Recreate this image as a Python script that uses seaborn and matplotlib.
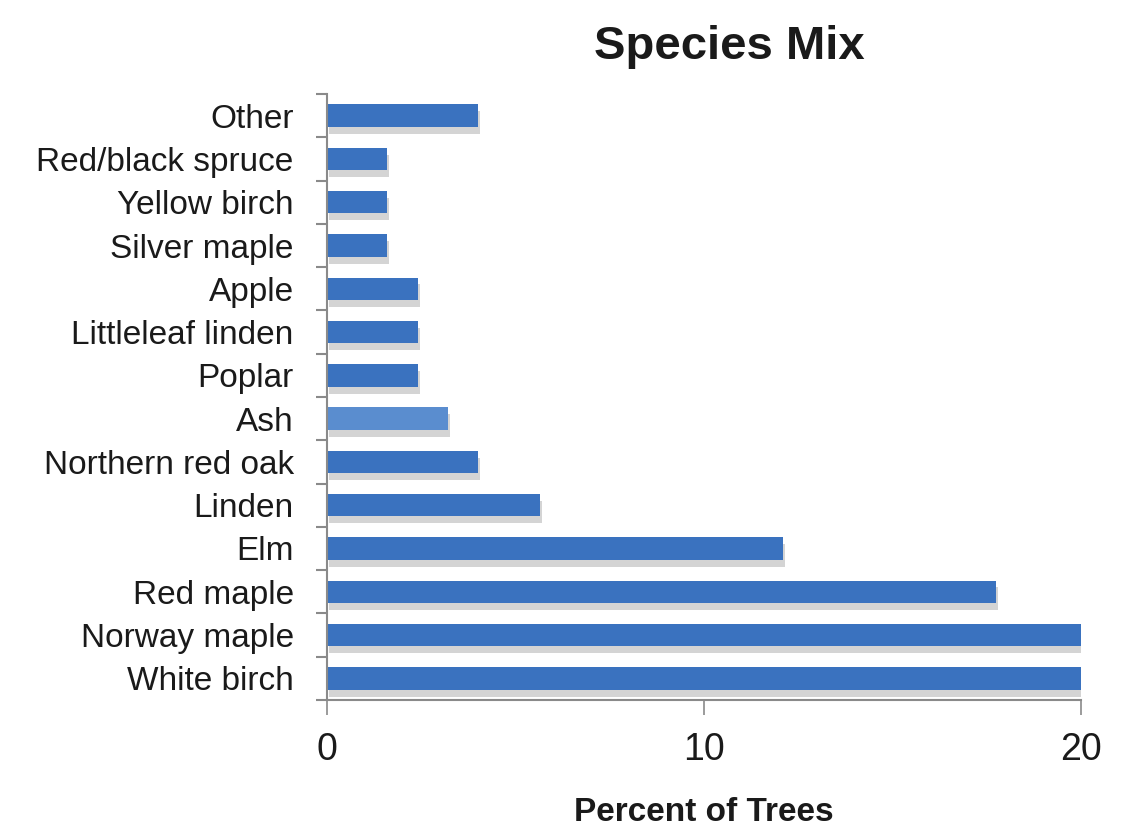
import matplotlib
matplotlib.use("Agg")
import matplotlib.pyplot as plt
import matplotlib.patheffects as pe
from matplotlib.ticker import FixedLocator
import seaborn as sns
import pandas as pd
import numpy as np

species = [
    "Other", "Red/black spruce", "Yellow birch", "Silver maple", "Apple",
    "Littleleaf linden", "Poplar", "Ash", "Northern red oak", "Linden",
    "Elm", "Red maple", "Norway maple", "White birch",
]
percent = [4.0, 1.6, 1.6, 1.6, 2.4, 2.4, 2.4, 3.2, 4.0, 5.65, 12.1, 17.75, 20.0, 20.0]
x_ticks = [0, 10, 20]

bar_blue = "#3a72bf"
ash_blue = "#5a8dcf"
axis_gray = "#8a8a8a"
text_color = "#1a1a1a"

sns.set_style("white")
plt.rcParams["font.family"] = ["Liberation Sans Narrow", "Liberation Sans", "DejaVu Sans"]
plt.rcParams["text.color"] = text_color

df = pd.DataFrame({"species": species, "percent": percent})
palette = {s: (ash_blue if s == "Ash" else bar_blue) for s in species}

fig = plt.figure(figsize=(11.34, 8.27), dpi=100)
ax = fig.add_axes([0.2884, 0.1536, 0.6649, 0.7327])

sns.barplot(data=df, x="percent", y="species", hue="species", palette=palette,
            order=species, hue_order=species, legend=False, width=0.52,
            saturation=1, ax=ax)

# soft drop shadow under each bar
shadow = [pe.SimplePatchShadow(offset=(1.5, -5), shadow_rgbFace="#a0a0a0", alpha=0.45),
          pe.Normal()]
for bar in ax.patches:
    bar.set_path_effects(shadow)
    bar.set_edgecolor("none")

ax.set_xlim(0, 20)
ax.set_ylim(len(species) - 0.5, -0.5)
ax.set_xticks(x_ticks)
ax.set_xticklabels([str(t) for t in x_ticks], fontsize=27, color=text_color)
ax.tick_params(axis="x", which="major", bottom=True, direction="out", length=11,
               width=1.2, color=axis_gray, pad=12)

# ticks between categories on the y axis
ax.yaxis.set_minor_locator(FixedLocator(np.arange(-0.5, len(species), 1.0)))
ax.tick_params(axis="y", which="major", left=True, length=0, pad=24, labelsize=24,
               labelcolor=text_color)
ax.tick_params(axis="y", which="minor", left=True, direction="out", length=8,
               width=1.5, color=axis_gray)

for side in ("top", "right"):
    ax.spines[side].set_visible(False)
for side in ("left", "bottom"):
    ax.spines[side].set_color(axis_gray)
    ax.spines[side].set_linewidth(1.5)

ax.set_ylabel("")
ax.set_xlabel("Percent of Trees", fontsize=24, fontweight="bold", labelpad=21,
              color=text_color)

fig.text(0.643, 0.943, "Species Mix", fontsize=34, fontweight="bold",
         ha="center", va="center", color=text_color)

fig.savefig("out.png", dpi=100, facecolor="white")
